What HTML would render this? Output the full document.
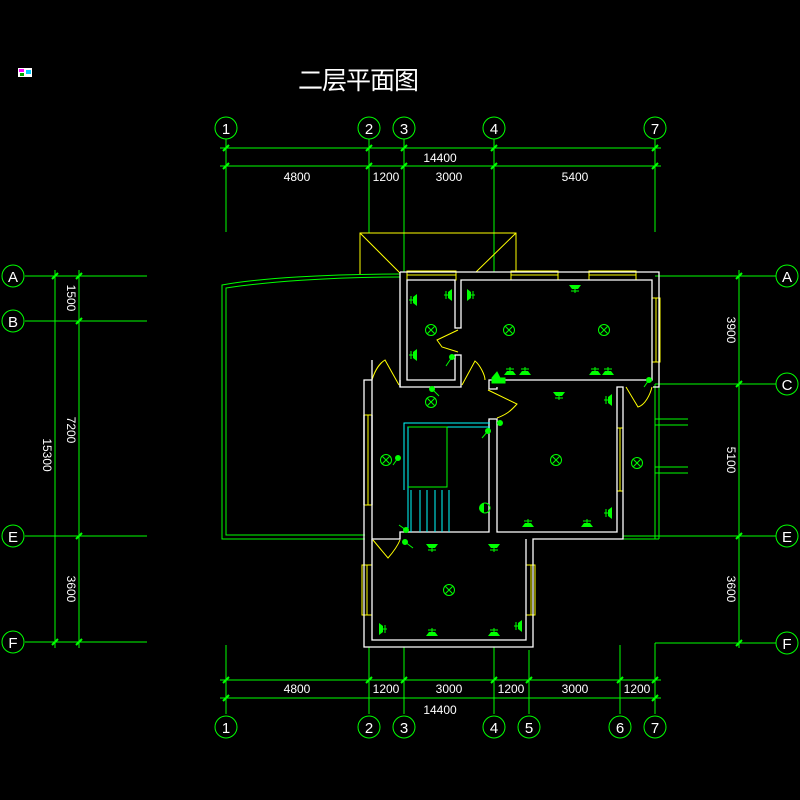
<!DOCTYPE html>
<html><head><meta charset="utf-8"><style>
html,body{margin:0;padding:0;background:#000;width:800px;height:800px;overflow:hidden}
svg{display:block}
text{font-family:"Liberation Sans","Noto Sans CJK SC",sans-serif;fill:#fff}
</style></head><body>
<svg width="800" height="800" viewBox="0 0 800 800" xmlns="http://www.w3.org/2000/svg">
<defs>
<g id="cx"><circle r="5.5" fill="none" stroke="#0f0" stroke-width="1"/><path d="M-3.5-3.5L3.5 3.5M3.5-3.5L-3.5 3.5" stroke="#0f0" stroke-width="1"/></g>
<g id="ld"><path d="M-6-3H6L3 1H-3Z" fill="#0f0"/><path d="M0 1V5M-4 3H4" stroke="#0f0"/></g>
<g id="lu"><path d="M-6 3H6L3-1H-3Z" fill="#0f0"/><path d="M0-1V-5M-4-3H4" stroke="#0f0"/></g>
</defs>
<!-- icon -->
<rect x="18" y="68" width="14" height="9" fill="#fff"/><rect x="19" y="69" width="5" height="3" fill="#f0f"/><rect x="26" y="70" width="5" height="4" fill="#0cf"/><rect x="20" y="73" width="4" height="3" fill="#0a0"/>
<!-- title -->
<text x="358" y="89" font-size="25" text-anchor="middle" letter-spacing="-1">二层平面图</text>
<g stroke="#0f0" stroke-width="1" fill="none">
<path d="M226 139V232M369 139V233M404 139V272M494 139V272M655 139V232"/>
<path d="M220 148H661M220 166H661"/>
<path d="M226 645V714M369 647V714M404 647V714M494 647V714M529 650V714M620 645V714M655 645V714"/>
<path d="M220 680H661M220 698H661"/>
<path d="M25 276H147M25 321H147M25 536H147M25 642H147M55 270V648M79 270V648"/>
<path d="M655 276H776M655 384H776M655 536H776M655 643H776M655 643V672M739 270V648"/>
<path d="M655 384V539M659 384V539M655 419H688M655 425H688M655 467H688M655 473H688M623 539H659M623 536H655"/>
<path d="M400 274C330 274 260 278 222 285V539H365"/>
<path d="M400 277C330 277 265 282 226 288V535H365"/>
<circle cx="226" cy="128" r="11"/><circle cx="369" cy="128" r="11"/><circle cx="404" cy="128" r="11"/><circle cx="494" cy="128" r="11"/><circle cx="655" cy="128" r="11"/>
<circle cx="226" cy="727" r="11"/><circle cx="369" cy="727" r="11"/><circle cx="404" cy="727" r="11"/><circle cx="494" cy="727" r="11"/><circle cx="529" cy="727" r="11"/><circle cx="620" cy="727" r="11"/><circle cx="655" cy="727" r="11"/>
<circle cx="13" cy="276" r="11"/><circle cx="13" cy="321" r="11"/><circle cx="13" cy="536" r="11"/><circle cx="13" cy="642" r="11"/>
<circle cx="787" cy="276" r="11"/><circle cx="787" cy="384" r="11"/><circle cx="787" cy="536" r="11"/><circle cx="787" cy="643" r="11"/>
</g>
<g stroke="#0f0" stroke-width="2">
<path d="M223 151L229 145M366 151L372 145M401 151L407 145M491 151L497 145M652 151L658 145M223 169L229 163M366 169L372 163M401 169L407 163M491 169L497 163M652 169L658 163"/>
<path d="M223 683L229 677M366 683L372 677M401 683L407 677M491 683L497 677M526 683L532 677M617 683L623 677M652 683L658 677M223 701L229 695M652 701L658 695"/>
<path d="M52 279L58 273M76 279L82 273M76 324L82 318M76 539L82 533M52 645L58 639M76 645L82 639M736 279L742 273M736 387L742 381M736 539L742 533M736 646L742 640"/>
</g>
<g font-size="15" text-anchor="middle">
<text x="226" y="134">1</text><text x="369" y="134">2</text><text x="404" y="134">3</text><text x="494" y="134">4</text><text x="655" y="134">7</text>
<text x="226" y="733">1</text><text x="369" y="733">2</text><text x="404" y="733">3</text><text x="494" y="733">4</text><text x="529" y="733">5</text><text x="620" y="733">6</text><text x="655" y="733">7</text>
<text x="13" y="282">A</text><text x="13" y="327">B</text><text x="13" y="542">E</text><text x="13" y="648">F</text>
<text x="787" y="282">A</text><text x="787" y="390">C</text><text x="787" y="542">E</text><text x="787" y="649">F</text>
</g>
<g font-size="12" text-anchor="middle">
<text x="440" y="162">14400</text>
<text x="297" y="181">4800</text><text x="386" y="181">1200</text><text x="449" y="181">3000</text><text x="575" y="181">5400</text>
<text x="297" y="693">4800</text><text x="386" y="693">1200</text><text x="449" y="693">3000</text><text x="511" y="693">1200</text><text x="575" y="693">3000</text><text x="637" y="693">1200</text>
<text x="440" y="714">14400</text>
<text transform="translate(67,298) rotate(90)">1500</text>
<text transform="translate(67,430) rotate(90)">7200</text>
<text transform="translate(43,455) rotate(90)">15300</text>
<text transform="translate(67,589) rotate(90)">3600</text>
<text transform="translate(727,330) rotate(90)">3900</text>
<text transform="translate(727,460) rotate(90)">5100</text>
<text transform="translate(727,589) rotate(90)">3600</text>
</g>
<g stroke="#ff0" stroke-width="1" fill="none">
<path d="M360 274V233H516V272M360 233L400 273M516 233L476 272"/>
<path d="M407 271H456V280H407ZM407 275H456M511 271H558V280H511ZM511 275H558M589 271H636V280H589ZM589 275H636"/>
<path d="M652 298H660V362H652ZM656 298V362M617 428H623V491H617ZM620 428V491M364 415H372V505H364ZM368 415V505M362 565H372V615H362ZM367 565V615M526 565H535V615H526ZM531 565V615"/>
<path d="M458 330L437 340L442 347L458 352M372 380C375 370 380 363 385 360L399 385M462 385L475 361C480 365 485 375 485 380M488 390L517 404C510 412 505 415 497 418M652 387C650 395 645 405 638 407L626 387M373 540L388 558C395 550 398 545 400 540"/>
</g>
<g stroke="#fff" stroke-width="1.3" fill="none">
<path d="M400 272H659V387H653M400 272V387H461V355H455V380H407V280H455V328H461V280H652V380H489V389H497V387"/>
<path d="M372 380H364V647H533V539H623V387H617V532H497V419H489V532H400V539H372V380"/>
<path d="M526 539V640H372V539M364 505V415M372 505V415"/>
<path d="M372 380V360M400 380V387"/>
</g>
<g stroke="#0ff" stroke-width="1" fill="none">
<path d="M404 490V423H490M408 532V427H490M411 490V532M420 490V532M427 490V532M435 490V532M442 490V532M449 490V532"/>
</g>
<path d="M408 427H447V487H408" stroke="#0f0" fill="none"/>
<g>
<use href="#cx" x="431" y="330"/><use href="#cx" x="509" y="330"/><use href="#cx" x="604" y="330"/>
<use href="#cx" x="431" y="402"/><use href="#cx" x="556" y="460"/><use href="#cx" x="386" y="460"/>
<use href="#cx" x="637" y="463"/><use href="#cx" x="449" y="590"/>
<use href="#ld" x="575" y="288"/><use href="#ld" x="559" y="395"/><use href="#ld" x="432" y="547"/><use href="#ld" x="494" y="547"/>
<use href="#lu" x="510" y="372"/><use href="#lu" x="525" y="372"/><use href="#lu" x="595" y="372"/><use href="#lu" x="608" y="372"/>
<use href="#lu" x="528" y="524"/><use href="#lu" x="587" y="524"/><use href="#lu" x="432" y="633"/><use href="#lu" x="494" y="633"/>
<use href="#ld" transform="translate(470,295) rotate(-90)"/><use href="#ld" transform="translate(609,400) rotate(90)"/>
<use href="#ld" transform="translate(609,513) rotate(90)"/><use href="#ld" transform="translate(382,629) rotate(-90)"/>
<use href="#ld" transform="translate(519,626) rotate(90)"/>
<use href="#ld" transform="translate(414,300) rotate(90)"/><use href="#ld" transform="translate(414,355) rotate(90)"/><use href="#ld" transform="translate(449,295) rotate(90)"/>
<path d="M484 503a5 5 0 0 0 0 10Z" fill="#0f0"/><circle cx="485" cy="508" r="5" fill="none" stroke="#0f0"/>
<g fill="#0f0" stroke="#0f0"><circle cx="452" cy="357" r="2.5"/><path d="M452 357L446 366" fill="none"/>
<circle cx="432" cy="389" r="2.5"/><path d="M432 389L439 396" fill="none"/>
<circle cx="398" cy="458" r="2.5"/><path d="M398 458L393 465" fill="none"/>
<circle cx="488" cy="431" r="2.5"/><path d="M488 431L482 438" fill="none"/>
<circle cx="500" cy="423" r="2.5"/>
<circle cx="406" cy="530" r="2.5"/><path d="M406 530L399 525" fill="none"/>
<circle cx="405" cy="542" r="2.5"/><path d="M405 542L413 548" fill="none"/>
<circle cx="649" cy="380" r="2.5"/><path d="M649 380L644 387" fill="none"/>
<path d="M492 378L497 372L500 378H505V383H492Z"/></g>
</g>
</svg>
</body></html>
